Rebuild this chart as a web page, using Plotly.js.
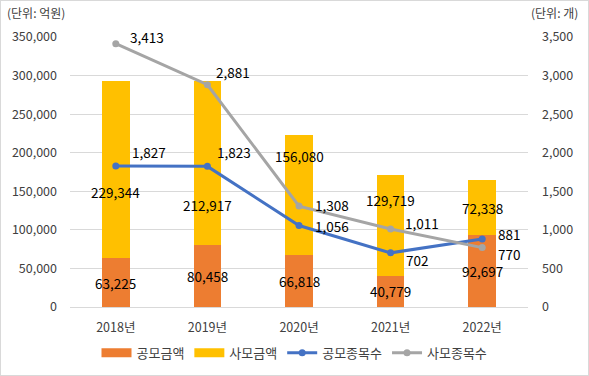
<!DOCTYPE html>
<html><head><meta charset="utf-8">
<script src="https://cdn.plot.ly/plotly-3.0.1.min.js"></script>
<style>
html,body{margin:0;padding:0;background:#fff;}
#wrap{position:relative;width:589px;height:376px;}
#chart{width:589px;height:376px;}
#frame{position:absolute;left:0;top:0;width:587px;height:374px;border:1px solid #d9d9d9;pointer-events:none;}
</style>
</head><body>
<div id="wrap"><div id="chart"></div><div id="frame"></div></div>
<script>
const years = ['2018년','2019년','2020년','2021년','2022년'];
const publicAmount = [63225, 80458, 66818, 40779, 92697];
const privateAmount = [229344, 212917, 156080, 129719, 72338];
const publicCount = [1827, 1823, 1056, 702, 881];
const privateCount = [3413, 2881, 1308, 1011, 770];

const FONT = '"Noto Sans CJK KR", "Malgun Gothic", sans-serif';
const fmt = v => v.toLocaleString('en-US');
const ORANGE = '#ED7D31', YELLOW = '#FFC000', BLUE = '#4472C4', GRAY = '#A5A5A5';

// label placement offsets (pixels)
const privLabelShift = [-22, -42, 39, 26, 0];
const grayShift = [[12,7],[7,13],[14,1],[12,6],[14,-6]];
const blueShift = [[14,14],[8,14],[14,0],[13,-7],[14,5]];

const traces = [
  {type:'bar', name:'공모금액', x:years, y:publicAmount, marker:{color:ORANGE}, hoverinfo:'none', showlegend:false},
  {type:'bar', name:'사모금액', x:years, y:privateAmount, marker:{color:YELLOW}, hoverinfo:'none', showlegend:false},
  {type:'scatter', mode:'lines', name:'공모금액', x:[null], y:[null], line:{color:ORANGE, width:9}, hoverinfo:'none'},
  {type:'scatter', mode:'lines', name:'사모금액', x:[null], y:[null], line:{color:YELLOW, width:9}, hoverinfo:'none'},
  {type:'scatter', mode:'lines+markers', name:'공모종목수', x:years, y:publicCount, yaxis:'y2',
   line:{color:BLUE, width:3}, marker:{color:BLUE, size:7}, hoverinfo:'none'},
  {type:'scatter', mode:'lines+markers', name:'사모종목수', x:years, y:privateCount, yaxis:'y2',
   line:{color:GRAY, width:3}, marker:{color:GRAY, size:7}, hoverinfo:'none'}
];

const ann = [];
const lblFont = {family:FONT, size:13.5, color:'#000'};
years.forEach((yr,i)=>{
  ann.push({x:yr, y:publicAmount[i]/2, xref:'x', yref:'y', text:fmt(publicAmount[i]), showarrow:false, font:lblFont});
  ann.push({x:yr, y:publicAmount[i]+privateAmount[i]/2, xref:'x', yref:'y', text:fmt(privateAmount[i]), showarrow:false, font:lblFont, yshift:privLabelShift[i]});
  ann.push({x:yr, y:privateCount[i], xref:'x', yref:'y2', text:fmt(privateCount[i]), showarrow:false, font:lblFont, xanchor:'left', xshift:grayShift[i][0], yshift:grayShift[i][1]});
  ann.push({x:yr, y:publicCount[i], xref:'x', yref:'y2', text:fmt(publicCount[i]), showarrow:false, font:lblFont, xanchor:'left', xshift:blueShift[i][0], yshift:blueShift[i][1]});
});
ann.push({x:-0.142, y:1.089, xref:'paper', yref:'paper', xanchor:'left', yanchor:'middle', text:'(단위: 억원)', showarrow:false, font:{family:FONT, size:12, color:'#404040'}});
ann.push({x:1.1135, y:1.089, xref:'paper', yref:'paper', xanchor:'right', yanchor:'middle', text:'(단위: 개)', showarrow:false, font:{family:FONT, size:12, color:'#404040'}});

const layout = {
  width:589, height:376,
  margin:{l:70, r:61, t:37, b:69},
  paper_bgcolor:'#fff', plot_bgcolor:'#fff',
  barmode:'stack', bargap:0.7,
  font:{family:FONT, size:12, color:'#404040'},
  showlegend:true,
  legend:{orientation:'h', x:0.5, xref:'container', xanchor:'center', y:0.062, yref:'container', yanchor:'middle', font:{family:FONT, size:13, color:'#404040'}, traceorder:'normal', itemwidth:30, tracegroupgap:0},
  xaxis:{showgrid:false, showline:false, zeroline:false, ticks:'', ticklabelstandoff:11, tickfont:{family:FONT, size:12.5, color:'#404040'}, fixedrange:true},
  yaxis:{range:[0,350000], dtick:50000, tickformat:',d', showgrid:true, gridcolor:'#d9d9d9', gridwidth:1, zeroline:true, zerolinecolor:'#d9d9d9', showline:false, ticks:'', ticklabelstandoff:12, tickfont:{family:FONT, size:12.5, color:'#404040'}},
  yaxis2:{range:[0,3500], dtick:500, tickformat:',d', overlaying:'y', side:'right', showgrid:false, zeroline:false, showline:false, ticks:'', ticklabelstandoff:13, tickfont:{family:FONT, size:12.5, color:'#404040'}},
  annotations:ann
};
Plotly.newPlot('chart', traces, layout, {displayModeBar:false, staticPlot:true});
</script>
</body></html>
